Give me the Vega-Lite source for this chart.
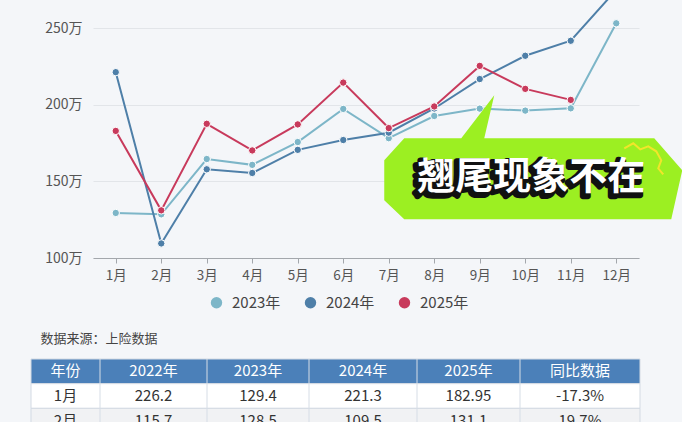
{
  "$schema": "https://vega.github.io/schema/vega-lite/v6.json",
  "background": "#f4f6f9",
  "padding": {"left": 30, "top": 0, "right": 0, "bottom": 0},
  "config": {
    "font": "Noto Sans CJK SC",
    "view": {"stroke": null}
  },
  "spacing": 50,
  "datasets": {
    "sales": [
      {"month": "1月", "year": "2023年", "value": 129.4},
      {"month": "2月", "year": "2023年", "value": 128.5},
      {"month": "3月", "year": "2023年", "value": 164.6},
      {"month": "4月", "year": "2023年", "value": 160.8},
      {"month": "5月", "year": "2023年", "value": 175.7},
      {"month": "6月", "year": "2023年", "value": 197.3},
      {"month": "7月", "year": "2023年", "value": 178.2},
      {"month": "8月", "year": "2023年", "value": 192.7},
      {"month": "9月", "year": "2023年", "value": 197.5},
      {"month": "10月", "year": "2023年", "value": 196.2},
      {"month": "11月", "year": "2023年", "value": 197.7},
      {"month": "12月", "year": "2023年", "value": 253.2},
      {"month": "1月", "year": "2024年", "value": 221.3},
      {"month": "2月", "year": "2024年", "value": 109.5},
      {"month": "3月", "year": "2024年", "value": 157.9},
      {"month": "4月", "year": "2024年", "value": 155.5},
      {"month": "5月", "year": "2024年", "value": 170.6},
      {"month": "6月", "year": "2024年", "value": 177.0},
      {"month": "7月", "year": "2024年", "value": 181.8},
      {"month": "8月", "year": "2024年", "value": 197.6},
      {"month": "9月", "year": "2024年", "value": 216.8},
      {"month": "10月", "year": "2024年", "value": 232.0},
      {"month": "11月", "year": "2024年", "value": 241.8},
      {"month": "12月", "year": "2024年", "value": 275.0},
      {"month": "1月", "year": "2025年", "value": 182.95},
      {"month": "2月", "year": "2025年", "value": 131.1},
      {"month": "3月", "year": "2025年", "value": 187.6},
      {"month": "4月", "year": "2025年", "value": 170.2},
      {"month": "5月", "year": "2025年", "value": 187.2},
      {"month": "6月", "year": "2025年", "value": 214.5},
      {"month": "7月", "year": "2025年", "value": 184.8},
      {"month": "8月", "year": "2025年", "value": 198.9},
      {"month": "9月", "year": "2025年", "value": 225.4},
      {"month": "10月", "year": "2025年", "value": 210.4},
      {"month": "11月", "year": "2025年", "value": 203.2}
    ],
    "note": [
      {"month": "10月", "value": 152, "label": "翘尾现象不在"}
    ],
    "table": [
      {"r": "header", "ci": 0, "t": "年份"},
      {"r": "header", "ci": 1, "t": "2022年"},
      {"r": "header", "ci": 2, "t": "2023年"},
      {"r": "header", "ci": 3, "t": "2024年"},
      {"r": "header", "ci": 4, "t": "2025年"},
      {"r": "header", "ci": 5, "t": "同比数据"},
      {"r": "r1", "ci": 0, "t": "1月"},
      {"r": "r1", "ci": 1, "t": "226.2"},
      {"r": "r1", "ci": 2, "t": "129.4"},
      {"r": "r1", "ci": 3, "t": "221.3"},
      {"r": "r1", "ci": 4, "t": "182.95"},
      {"r": "r1", "ci": 5, "t": "-17.3%"},
      {"r": "r2", "ci": 0, "t": "2月"},
      {"r": "r2", "ci": 1, "t": "115.7"},
      {"r": "r2", "ci": 2, "t": "128.5"},
      {"r": "r2", "ci": 3, "t": "109.5"},
      {"r": "r2", "ci": 4, "t": "131.1"},
      {"r": "r2", "ci": 5, "t": "19.7%"}
    ]
  },
  "vconcat": [
    {
      "width": 546,
      "height": 258,
      "encoding": {
        "x": {
          "field": "month",
          "type": "ordinal",
          "sort": null,
          "scale": {"type": "point", "padding": 0.5, "domain": ["1月","2月","3月","4月","5月","6月","7月","8月","9月","10月","11月","12月"]},
          "axis": {"title": null, "labelAngle": 0, "labelFontSize": 13.5, "labelColor": "#555555", "domainColor": "#a3a7ac", "tickColor": "#a3a7ac", "tickSize": 5, "labelPadding": 5, "grid": false}
        },
        "y": {
          "field": "value",
          "type": "quantitative",
          "scale": {"domain": [100, 268.4], "nice": false, "zero": false},
          "axis": {"title": null, "values": [100, 150, 200, 250], "labelExpr": "datum.value + '万'", "grid": true, "gridColor": "#e2e5e9", "domain": false, "ticks": false, "labelPadding": 11, "labelFontSize": 14, "labelColor": "#555555", "minExtent": 62, "maxExtent": 62}
        }
      },
      "layer": [
        {
          "data": {"name": "sales"},
          "mark": {"type": "line", "strokeWidth": 2, "clip": true},
          "encoding": {
            "color": {
              "field": "year", "type": "nominal",
              "scale": {"domain": ["2023年", "2024年", "2025年"], "range": ["#7db6c8", "#4e7fa8", "#c83a5c"]},
              "legend": {"orient": "none", "legendX": 116, "legendY": 295, "direction": "horizontal", "title": null, "labelFontSize": 15, "labelColor": "#444444", "symbolType": "circle", "symbolSize": 130, "labelOffset": 8, "columnPadding": 22, "symbolStrokeWidth": 0,
                "encode": {"symbols": {"update": {"fill": {"scale": "color", "field": "value"}, "strokeWidth": {"value": 0}}}}}
            }
          }
        },
        {
          "data": {"name": "sales"},
          "mark": {"type": "point", "filled": true, "size": 55, "stroke": "#ffffff", "strokeWidth": 1, "opacity": 1, "clip": true},
          "encoding": {
            "color": {
              "field": "year", "type": "nominal",
              "scale": {"domain": ["2023年", "2024年", "2025年"], "range": ["#7db6c8", "#4e7fa8", "#c83a5c"]},
              "legend": {"orient": "none", "legendX": 116, "legendY": 295, "direction": "horizontal", "title": null, "labelFontSize": 15, "labelColor": "#444444", "symbolType": "circle", "symbolSize": 130, "labelOffset": 8, "columnPadding": 22, "symbolStrokeWidth": 0,
                "encode": {"symbols": {"update": {"fill": {"scale": "color", "field": "value"}, "strokeWidth": {"value": 0}}}}}
            }
          }
        },
        {
          "data": {"name": "note"},
          "mark": {"type": "point", "filled": true, "color": "#9cef22", "opacity": 1, "strokeWidth": 0, "size": 40000,
            "shape": "M -1.21 -0.40 L -0.64 -0.40 L -0.31 -0.83 L -0.41 -0.40 L 1.29 -0.40 L 1.57 -0.08 L 1.46 0.41 L -1.21 0.41 L -1.41 0.22 L -1.41 -0.18 Z"},
          "encoding": {}
        },
        {
          "data": {"name": "note"},
          "mark": {"type": "point", "filled": false, "color": "#f2e52a", "opacity": 1, "strokeWidth": 2, "size": 40000,
            "shape": "M 0.99 -0.30 L 1.08 -0.35 L 1.15 -0.29 L 1.23 -0.32 L 1.31 -0.27 L 1.36 -0.18 L 1.33 -0.10 L 1.38 -0.04"},
          "encoding": {}
        },
        {
          "data": {"name": "note"},
          "mark": {"type": "text", "fontSize": 38, "fontWeight": "bold", "color": "#111111", "stroke": "#111111", "strokeWidth": 6, "strokeJoin": "round", "dx": 3, "dy": 3, "baseline": "middle", "align": "center"},
          "encoding": {"text": {"field": "label"}}
        },
        {
          "data": {"name": "note"},
          "mark": {"type": "text", "fontSize": 38, "fontWeight": "bold", "color": "#ffffff", "dx": 6, "dy": 0, "baseline": "middle", "align": "center"},
          "encoding": {"text": {"field": "label"}}
        }
      ]
    },
    {
      "width": 547,
      "height": 74,
      "title": {"text": "数据来源：上险数据", "anchor": "start", "fontSize": 13, "fontWeight": "normal", "color": "#444444", "offset": 13, "dx": 10},
      "data": {"name": "table"},
      "layer": [
        {
          "transform": [{"filter": "datum.ci === 0"}],
          "mark": {"type": "rect", "stroke": "#d3dae3", "strokeWidth": 1},
          "encoding": {
            "x": {"field": "ci", "type": "quantitative", "scale": {"domain": [0, 1, 2, 3, 4, 5, 6], "range": [-62, 7, 114, 216, 324, 427, 547], "nice": false, "zero": false}, "axis": null},
            "x2": {"datum": 6},
            "y": {"field": "r", "type": "nominal", "sort": null, "scale": {"domain": ["header", "r1", "r2"], "paddingInner": 0, "paddingOuter": 0}, "axis": null},
            "fill": {"field": "r", "type": "nominal", "scale": {"domain": ["header", "r1", "r2"], "range": ["#4b80b9", "#ffffff", "#f1f2f4"]}, "legend": null}
          }
        },
        {
          "transform": [{"filter": "datum.r === 'header' && datum.ci > 0"}],
          "mark": {"type": "rule", "color": "#d6dde6", "strokeWidth": 1},
          "encoding": {
            "x": {"field": "ci", "type": "quantitative", "scale": {"domain": [0, 1, 2, 3, 4, 5, 6], "range": [-62, 7, 114, 216, 324, 427, 547], "nice": false, "zero": false}, "axis": null}
          }
        },
        {
          "mark": {"type": "text", "fontSize": 15, "baseline": "middle", "align": "center"},
          "encoding": {
            "x": {"field": "ci", "type": "quantitative", "scale": {"domain": [0, 1, 2, 3, 4, 5], "range": [-27.5, 60.5, 165, 270, 375.5, 487], "nice": false, "zero": false}, "axis": null},
            "y": {"field": "r", "type": "nominal", "sort": null, "scale": {"domain": ["header", "r1", "r2"], "paddingInner": 0, "paddingOuter": 0}, "axis": null},
            "text": {"field": "t"},
            "color": {"condition": {"test": "datum.r === 'header'", "value": "#ffffff"}, "value": "#333333"}
          }
        }
      ],
      "resolve": {"scale": {"x": "independent"}}
    }
  ]
}
